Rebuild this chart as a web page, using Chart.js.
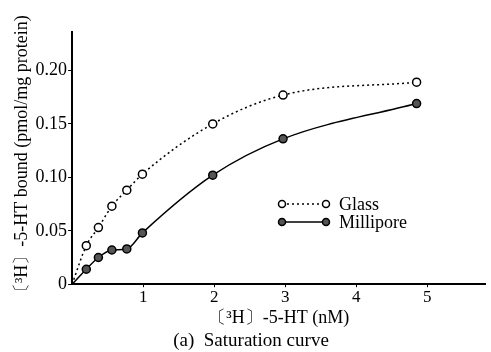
<!DOCTYPE html>
<html>
<head>
<meta charset="utf-8">
<script src="https://cdn.jsdelivr.net/npm/chart.js@4.4.0/dist/chart.umd.min.js"></script>
<style>
  html, body { margin: 0; padding: 0; background: #fff; }
  #wrap { width: 491px; height: 352px; }
</style>
</head>
<body>
<div id="wrap"><canvas id="satChart" width="491" height="352"></canvas></div>
<script>
// Data
const concNM = [0, 0.2, 0.37, 0.56, 0.77, 0.99, 1.98, 2.97, 4.85];
const glassBound = [0, 0.036, 0.053, 0.073, 0.088, 0.103, 0.150, 0.177, 0.189];
const milliporeBound = [0, 0.014, 0.025, 0.032, 0.033, 0.048, 0.102, 0.136, 0.169];
const xTicks = [1, 2, 3, 4, 5];
const yTicks = [0, 0.05, 0.10, 0.15, 0.20];
const seriesNames = ['Glass', 'Millipore'];

const serif = '"Liberation Serif", "DejaVu Serif", serif';

function toPoints(ys) {
    return concNM.map((x, i) => ({ x, y: ys[i] }));
}
// first point is the origin the curves start from, no marker there
const radii = concNM.map((x) => (x === 0 ? 0 : 4));

// Legend drawn inside the plot, like the original
const insideLegend = {
    id: 'insideLegend',
    afterDatasetsDraw(chart) {
        const ctx = chart.ctx;
        const rows = [
            { y: 204, dash: [2, 3], fill: '#fff' },
            { y: 222, dash: [], fill: '#555' },
        ];
        ctx.save();
        rows.forEach((r, i) => {
            ctx.strokeStyle = '#000';
            ctx.lineWidth = 1.5;
            ctx.setLineDash(r.dash);
            ctx.beginPath();
            ctx.moveTo(282, r.y);
            ctx.lineTo(326, r.y);
            ctx.stroke();
            ctx.setLineDash([]);
            [282, 326].forEach((cx) => {
                ctx.beginPath();
                ctx.arc(cx, r.y, 3.5, 0, Math.PI * 2);
                ctx.fillStyle = r.fill;
                ctx.fill();
                ctx.stroke();
            });
            ctx.fillStyle = '#000';
            ctx.font = '18px ' + serif;
            ctx.textBaseline = 'middle';
            ctx.fillText(seriesNames[i], 339, r.y + 1);
        });
        ctx.restore();
    },
};

new Chart(document.getElementById('satChart'), {
    type: 'scatter',
    data: {
        datasets: [
            {
                label: seriesNames[0],
                data: toPoints(glassBound),
                showLine: true,
                borderColor: '#000',
                borderWidth: 1.5,
                borderDash: [2, 3],
                cubicInterpolationMode: 'monotone',
                pointRadius: radii,
                pointBackgroundColor: '#fff',
                pointBorderColor: '#000',
                pointBorderWidth: 1.5,
            },
            {
                label: seriesNames[1],
                data: toPoints(milliporeBound),
                showLine: true,
                borderColor: '#000',
                borderWidth: 1.5,
                cubicInterpolationMode: 'monotone',
                pointRadius: radii,
                pointBackgroundColor: '#555',
                pointBorderColor: '#000',
                pointBorderWidth: 1.5,
            },
        ],
    },
    options: {
        responsive: false,
        animation: false,
        layout: { padding: { top: 32, right: 0, left: 11, bottom: 0 } },
        plugins: {
            legend: { display: false },
            tooltip: { enabled: false },
            title: {
                display: true,
                position: 'bottom',
                text: '(a)  Saturation curve',
                color: '#000',
                font: { family: serif, size: 19, weight: 'normal' },
                padding: { top: 0, bottom: 0 },
            },
        },
        scales: {
            x: {
                type: 'linear',
                min: 0,
                max: 5.82,
                afterBuildTicks: (axis) => { axis.ticks = xTicks.map((v) => ({ value: v })); },
                border: { color: '#000', width: 2 },
                grid: { display: true, drawOnChartArea: false, tickLength: 3, color: '#000' },
                ticks: { color: '#000', font: { family: serif, size: 17 }, padding: 0 },
                title: {
                    display: true,
                    text: '〔³H〕-5-HT (nM)',
                    color: '#000',
                    font: { family: serif, size: 18 },
                    padding: { top: 0, bottom: 0 },
                },
            },
            y: {
                type: 'linear',
                min: 0,
                max: 0.236,
                afterBuildTicks: (axis) => { axis.ticks = yTicks.map((v) => ({ value: v })); },
                border: { color: '#000', width: 2 },
                grid: { display: true, drawOnChartArea: false, tickLength: 4, color: '#000' },
                ticks: {
                    color: '#000',
                    font: { family: serif, size: 18 },
                    padding: 1,
                    callback: (v) => (v === 0 ? '0' : v.toFixed(2)),
                },
                title: {
                    display: true,
                    text: '〔³H〕-5-HT bound (pmol/mg protein)',
                    color: '#000',
                    font: { family: serif, size: 18 },
                    padding: { top: 0, bottom: 2 },
                },
            },
        },
    },
    plugins: [insideLegend],
});
</script>
</body>
</html>
